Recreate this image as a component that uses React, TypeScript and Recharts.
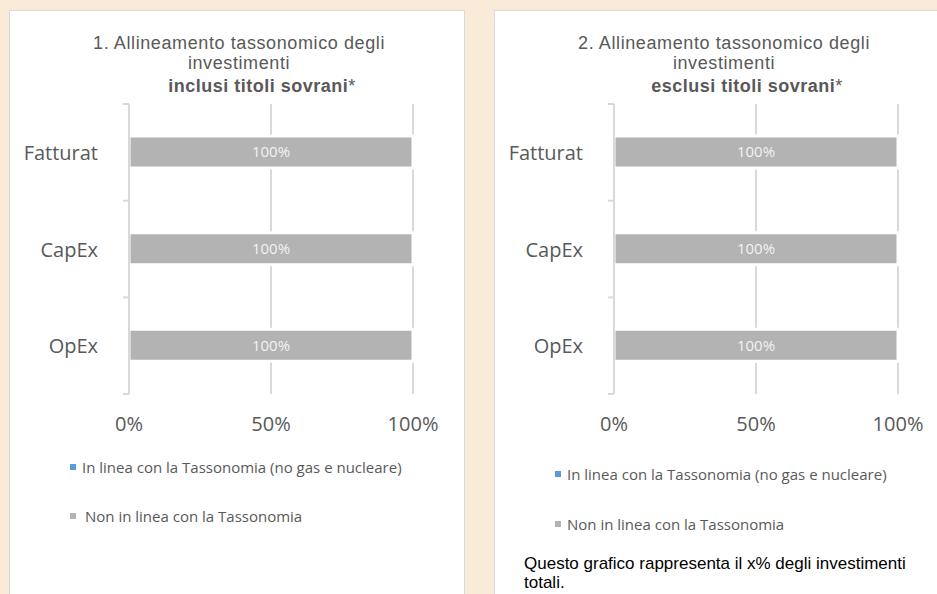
import React from 'react';
import { BarChart, Bar, XAxis, YAxis, CartesianGrid, Legend, LabelList } from 'recharts';

const categories = ['Fatturat', 'CapEx', 'OpEx'];
// chart 1: inclusi titoli sovrani
const inclAligned = [0, 0, 0];
const inclNotAligned = [100, 100, 100];
// chart 2: esclusi titoli sovrani
const exclAligned = [0, 0, 0];
const exclNotAligned = [100, 100, 100];
const xTicks = [0, 50, 100];
const seriesNames = ['In linea con la Tassonomia (no gas e nucleare)', 'Non in linea con la Tassonomia'];
const seriesColors = ['#5B9BD5', '#B3B3B3'];

const CHART_W = 456;
const CHART_H = 584;
const MARGIN = { top: 94, right: 52, bottom: 154, left: 0 };
const Y_W = 120;
const X_H = 46;
const PLOT_H = CHART_H - MARGIN.top - MARGIN.bottom - X_H;
const BAND = PLOT_H / categories.length;

const GRID = '#D9D9D9';
const TEXT = '#595959';
const SANS = '"Open Sans", sans-serif';
const ARIAL = '"Liberation Sans", Arial, sans-serif';

const CategoryTick = (props: any) => {
  const { x, y, payload, index } = props;
  const half = BAND / 2;
  return (
    <g>
      <text x={x - 31} y={y} textAnchor="end" dominantBaseline="central" fontSize={20} fill={TEXT} fontFamily={SANS}>
        {payload.value}
      </text>
      <line x1={x - 6} x2={x} y1={y - half} y2={y - half} stroke={GRID} strokeWidth={2} />
      {index === categories.length - 1 && (
        <line x1={x - 6} x2={x} y1={y + half} y2={y + half} stroke={GRID} strokeWidth={2} />
      )}
    </g>
  );
};

const LegendBox = (props: any) => {
  const items = props.payload || [];
  return (
    <div style={{ fontFamily: SANS, fontSize: 15, color: TEXT, whiteSpace: 'nowrap' }}>
      {items.map((it: any, i: number) => (
        <div key={i} style={{ display: 'flex', alignItems: 'center', height: 18, marginBottom: i === 0 ? props.gap : 0 }}>
          <span style={{ display: 'inline-block', width: 6, height: 6, background: it.color, marginRight: i === 0 ? 6 : props.space2 }} />
          <span>{it.value}</span>
        </div>
      ))}
    </div>
  );
};

const titleLine = (top: number, extra: any = {}) => ({
  position: 'absolute' as const,
  top,
  width: '100%',
  lineHeight: '20px',
  paddingLeft: 2,
  boxSizing: 'border-box' as const,
  ...extra,
});

function Panel({ left, num, sub, aligned, notAligned, legendTop, legendGap, legendSpace2, footnote }: any) {
  const data = categories.map((name, i) => ({ name, aligned: aligned[i], notAligned: notAligned[i] }));
  return (
    <div style={{ position: 'absolute', left, top: 10, width: CHART_W, height: 600, background: '#fff', border: `1px solid ${GRID}`, boxSizing: 'border-box' }}>
      <div style={{ position: 'absolute', top: 0, left: 0, width: CHART_W, fontFamily: ARIAL, fontSize: 18, letterSpacing: 0.6, color: TEXT, textAlign: 'center' }}>
        <div style={titleLine(22)}>{num}. Allineamento tassonomico degli</div>
        <div style={titleLine(42)}>investimenti</div>
        <div style={titleLine(65, { paddingLeft: 48, fontWeight: 'bold', letterSpacing: 0.5 })}>
          {sub} titoli sovrani<span style={{ fontWeight: 'normal' }}>*</span>
        </div>
      </div>
      <div style={{ position: 'absolute', left: -1, top: -1 }}>
        <BarChart width={CHART_W} height={CHART_H} data={data} layout="vertical" margin={MARGIN} barSize={32}>
          <CartesianGrid horizontal={false} stroke={GRID} strokeWidth={2} />
          <XAxis
            type="number"
            domain={[0, 100]}
            ticks={xTicks}
            tickFormatter={(v: number) => `${v}%`}
            axisLine={false}
            tickLine={false}
            tickSize={0}
            tickMargin={23}
            height={X_H}
            interval={0}
            tick={{ fontSize: 20, fill: TEXT, fontFamily: SANS }}
          />
          <YAxis
            type="category"
            dataKey="name"
            width={Y_W}
            axisLine={{ stroke: GRID, strokeWidth: 2 }}
            tickLine={false}
            tickSize={0}
            tickMargin={0}
            interval={0}
            tick={<CategoryTick />}
          />
          <Legend
            layout="horizontal"
            verticalAlign="middle"
            align="center"
            wrapperStyle={{ top: legendTop, left: 61, width: 'auto' }}
            content={(p: any) => <LegendBox {...p} gap={legendGap} space2={legendSpace2} />}
          />
          <Bar dataKey="aligned" name={seriesNames[0]} stackId="a" fill={seriesColors[0]} isAnimationActive={false} />
          <Bar dataKey="notAligned" name={seriesNames[1]} stackId="a" fill={seriesColors[1]} stroke="#fff" strokeWidth={3} isAnimationActive={false}>
            <LabelList dataKey="notAligned" position="center" fill="#F2F2F2" fontSize={15} fontFamily={SANS} formatter={(v: any) => `${v}%`} />
          </Bar>
        </BarChart>
      </div>
      {footnote && (
        <div style={{ position: 'absolute', left: 29, top: 543, width: 400, fontFamily: ARIAL, fontSize: 17, lineHeight: '19px', color: '#000' }}>
          {footnote}
        </div>
      )}
    </div>
  );
}

export default function App() {
  return (
    <div style={{ position: 'fixed', left: 0, top: 0, width: 937, height: 594, overflow: 'hidden', background: '#FAEBD8' }}>
      <Panel left={9} num={1} sub="inclusi" aligned={inclAligned} notAligned={inclNotAligned} legendTop={448} legendGap={31} legendSpace2={9} />
      <Panel
        left={494}
        num={2}
        sub="esclusi"
        aligned={exclAligned}
        notAligned={exclNotAligned}
        legendTop={455}
        legendGap={32}
        legendSpace2={6}
        footnote="Questo grafico rappresenta il x% degli investimenti totali."
      />
    </div>
  );
}
